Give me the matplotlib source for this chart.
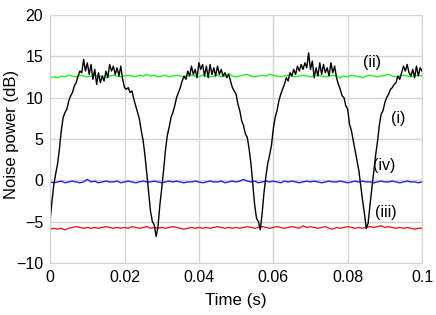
import numpy as np
import matplotlib.pyplot as plt

plt.rcParams['font.family'] = ['Liberation Sans', 'DejaVu Sans']

t_i = np.arange(201) * 0.0005
y_i = [
    -4.8, -2.5, -0.5, 0.8, 2.0, 3.8, 6.0, 7.6, 8.2, 8.6,
    9.6, 10.2, 10.6, 11.4, 11.8, 12.6, 13.2, 13.0, 14.6, 13.2,
    14.2, 12.8, 14.0, 12.2, 13.4, 11.6, 13.0, 11.8, 12.6, 12.0,
    13.2, 12.4, 14.0, 13.2, 13.8, 12.8, 13.6, 12.6, 13.8, 12.2,
    11.2, 11.0, 11.2, 10.6, 10.8, 9.8, 9.0, 8.2, 7.4, 6.0,
    4.8, 3.0, 0.8, -1.5, -3.8, -5.0, -5.4, -6.8, -5.6, -3.0,
    -1.0, 1.2, 3.6, 5.4, 6.4, 7.6, 8.2, 9.0, 10.0, 10.6,
    11.2, 12.0, 12.6, 12.2, 13.2, 12.6, 13.8, 12.8, 13.4, 12.4,
    14.2, 13.4, 14.0, 12.6, 13.8, 12.4, 14.0, 12.8, 13.6, 12.6,
    13.8, 12.8, 13.4, 12.6, 13.0, 12.4, 12.8, 12.0, 11.2, 10.8,
    10.4, 9.2, 8.4, 7.2, 6.6, 5.6, 5.2, 3.8, 2.0, -0.5,
    -3.0, -4.6, -5.0, -6.0, -4.0, -1.5, 0.4, 2.0, 3.0, 4.2,
    6.2, 7.6, 8.4, 9.6, 10.4, 11.0, 11.6, 12.4, 12.0, 13.0,
    12.6, 13.4, 12.8, 13.8, 13.2, 14.0, 13.4, 14.2, 13.6, 15.4,
    13.4, 14.4, 12.4, 13.6, 12.6, 14.2, 12.8, 14.0, 13.0, 13.6,
    12.6, 14.2, 13.0, 13.8, 12.4, 11.6, 11.0, 10.2, 10.0, 9.0,
    8.6, 6.8, 6.0, 4.8, 3.6, 2.4, 1.2, -0.6, -2.4, -4.0,
    -5.8, -5.2, -3.0, -1.0, 1.0, 3.0, 4.6, 6.6, 8.0, 8.4,
    9.4, 10.0, 10.4, 11.0, 11.2, 11.6, 11.8, 12.6, 12.2, 13.0,
    13.8, 13.2, 14.0, 13.0, 12.6, 13.4, 12.4, 13.8, 12.6, 13.6,
    13.2,
]

# reference lines (ii), (iv), (iii): sampled every 1 ms
t_flat = np.arange(101) * 0.001
y_ii = [
    12.4, 12.5, 12.4, 12.6, 12.5, 12.7, 12.6, 12.5, 12.7, 12.6,
    12.5, 12.6, 12.7, 12.5, 12.6, 12.4, 12.6, 12.7, 12.6, 12.5,
    12.6, 12.7, 12.6, 12.5, 12.7, 12.6, 12.8, 12.6, 12.7, 12.5,
    12.6, 12.7, 12.5, 12.6, 12.7, 12.6, 12.5, 12.6, 12.7, 12.6,
    12.5, 12.7, 12.6, 12.5, 12.6, 12.7, 12.5, 12.6, 12.9, 12.6,
    12.5, 12.6, 12.7, 12.8, 12.6, 12.5, 12.6, 12.7, 12.6, 12.8,
    12.7, 12.6, 12.5, 12.6, 12.7, 12.6, 12.5, 12.6, 12.7, 12.6,
    12.5, 12.6, 12.7, 12.6, 12.5, 12.6, 12.7, 12.6, 12.4, 12.6,
    12.5, 12.7, 12.6, 12.5, 12.4, 12.6, 12.7, 12.6, 12.5, 12.6,
    12.7, 12.8, 12.6, 12.5, 12.6, 12.7, 12.6, 12.5, 12.6, 12.7,
    12.6,
]
y_iv = [
    -0.2, -0.3, -0.2, -0.1, -0.3, -0.2, -0.1, -0.2, -0.3, -0.2,
    0.1, -0.2, -0.1, -0.3, -0.2, -0.1, -0.2, -0.2, -0.1, -0.3,
    -0.2, -0.1, -0.2, -0.3, -0.2, -0.1, -0.2, -0.2, -0.1, -0.2,
    -0.3, -0.2, -0.1, -0.2, -0.1, -0.2, -0.3, -0.2, -0.2, -0.1,
    -0.2, -0.3, -0.2, -0.1, -0.2, -0.2, -0.1, -0.3, -0.2, -0.1,
    -0.2, -0.1, 0.1, -0.1, -0.2, -0.1, -0.3, -0.2, -0.1, -0.2,
    -0.1, -0.2, -0.3, -0.1, -0.2, -0.1, -0.2, -0.3, -0.2, -0.1,
    -0.2, -0.1, -0.2, -0.3, -0.2, -0.1, -0.2, -0.2, -0.1, -0.2,
    -0.3, -0.2, -0.1, -0.2, -0.1, -0.2, -0.2, -0.3, -0.2, -0.1,
    -0.2, -0.2, -0.1, -0.2, -0.3, -0.2, -0.1, -0.2, -0.2, -0.3,
    -0.2,
]
y_iii = [
    -5.9, -5.8, -5.9, -5.8, -6.0, -5.8, -5.7, -5.6, -5.7, -5.8,
    -5.7, -5.8, -5.7, -5.8, -5.7, -5.6, -5.7, -5.8, -5.7, -5.8,
    -5.7, -5.8, -5.6, -5.7, -5.8, -5.7, -5.6, -5.8, -5.7, -5.8,
    -5.7, -5.8, -5.7, -5.6, -5.7, -5.8, -5.9, -5.8, -5.7, -5.8,
    -5.7, -5.8, -5.7, -5.8, -5.7, -5.6, -5.7, -5.8, -5.7, -5.8,
    -5.7, -5.8, -5.7, -5.6, -5.7, -5.8, -5.7, -5.6, -5.7, -5.8,
    -5.7, -5.6, -5.7, -5.8, -5.7, -5.6, -5.7, -5.8, -5.5, -5.7,
    -5.6, -5.7, -5.8, -5.7, -5.6, -5.8, -5.9, -5.7, -5.8, -5.7,
    -5.6, -5.7, -5.8, -5.7, -5.8, -5.7, -5.6, -5.7, -5.6, -5.5,
    -5.7, -5.6, -5.7, -5.8, -5.7, -5.8, -5.7, -5.8, -5.9, -5.8,
    -5.8,
]

fig = plt.figure(figsize=(4.36, 3.15), dpi=100)
ax = fig.add_axes([0.115, 0.165, 0.853, 0.788])

ax.plot(t_flat, y_ii, color='#22f022', lw=1.0)
ax.plot(t_flat, y_iv, color='#2222ee', lw=1.0)
ax.plot(t_flat, y_iii, color='#ee2222', lw=1.0)
ax.plot(t_i, y_i, color='black', lw=1.0)

ax.text(0.0865, 14.2, '(ii)', fontsize=11.5, ha='center', va='center')
ax.text(0.0935, 7.5, '(i)', fontsize=11.5, ha='center', va='center')
ax.text(0.0897, 1.8, '(iv)', fontsize=11.5, ha='center', va='center')
ax.text(0.0903, -3.9, '(iii)', fontsize=11.5, ha='center', va='center')

ax.set_xlim(0, 0.1)
ax.set_ylim(-10, 20)
ax.set_xticks([0, 0.02, 0.04, 0.06, 0.08, 0.1])
ax.set_xticklabels(['0', '0.02', '0.04', '0.06', '0.08', '0.1'])
ax.set_yticks([-10, -5, 0, 5, 10, 15, 20])
ax.tick_params(length=0, labelsize=11.5, pad=5)
ax.grid(True, color='#d4d4d4', lw=1.0)
ax.set_axisbelow(True)
for s in ax.spines.values():
    s.set_color('#d4d4d4')

ax.set_xlabel('Time (s)', fontsize=12.2, labelpad=6)
ax.set_ylabel('Noise power (dB)', fontsize=12)
ax.yaxis.set_label_coords(-0.083, 0.52)

fig.savefig('out.png', dpi=100)
